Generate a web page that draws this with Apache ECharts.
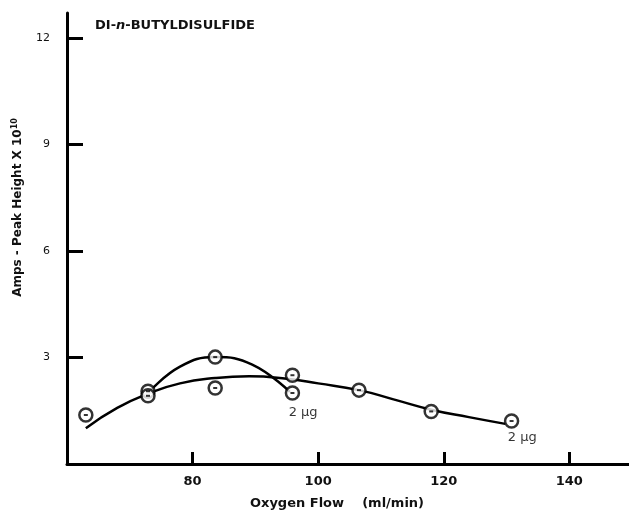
<!DOCTYPE html>
<html>
<head>
<meta charset="utf-8">
<script src="https://cdn.jsdelivr.net/npm/echarts@6/dist/echarts.min.js"></script>
<style>html,body{margin:0;padding:0;background:#fff;}#chart{width:629px;height:514px;}</style>
</head>
<body>
<div id="chart"></div>
<script>
// measured points (Oxygen flow ml/min, Amps peak height x 10^10)
const pointsX = [63.0, 72.9, 72.9, 83.6, 83.6, 95.9, 95.9, 106.5, 118.0, 130.8];
const pointsY = [1.38, 2.05, 1.92, 3.01, 2.14, 2.50, 2.00, 2.08, 1.48, 1.21];
// broad fitted curve
const curveAX = [63.0, 68.0, 72.9, 78.0, 83.6, 89.0, 95.0, 100.0, 106.5, 112.0, 118.0, 124.0, 129.8];
const curveAY = [1.01, 1.58, 1.98, 2.27, 2.42, 2.47, 2.40, 2.27, 2.08, 1.82, 1.53, 1.32, 1.13];
// narrow fitted curve
const curveBX = [72.9, 78.0, 83.6, 89.5, 95.5];
const curveBY = [2.00, 2.74, 3.01, 2.80, 2.03];
// annotations
const noteX = [97.6, 132.5];
const noteY = [1.44, 0.74];
const noteText = ['2 \u00b5g', '2 \u00b5g'];
const xTicks = [80, 100, 120, 140];
const yTicks = [3, 6, 9, 12];

const zip = (a, b) => a.map((v, i) => [v, b[i]]);
const FONT = '"DejaVu Sans", "Liberation Sans", sans-serif';

const chart = echarts.init(document.getElementById('chart'));
chart.setOption({
  animation: false,
  backgroundColor: '#fff',
  title: {
    text: 'DI-{i|n}-BUTYLDISULFIDE',
    left: 95, top: 19, padding: 0,
    textStyle: {
      fontFamily: FONT, fontSize: 13, fontWeight: 'bold', color: '#111',
      rich: { i: { fontFamily: FONT, fontSize: 13, fontWeight: 'bold', fontStyle: 'italic', color: '#111' } }
    }
  },
  grid: { left: 67, right: 0, top: 13, bottom: 50, outerBoundsMode: 'none', containLabel: false },
  xAxis: {
    type: 'value', min: 60, max: 149.5, interval: 20,
    name: 'Oxygen Flow    (ml/min)', nameLocation: 'middle', nameGap: 33,
    nameTextStyle: { fontFamily: FONT, fontSize: 13, fontWeight: 'bold', color: '#111', padding: [0, 22, 0, 0] },
    axisLine: { lineStyle: { color: '#000', width: 3 } },
    axisTick: { inside: true, length: 12, customValues: xTicks, lineStyle: { color: '#000', width: 3 } },
    axisLabel: {
      fontFamily: FONT, fontSize: 13, fontWeight: 'bold', color: '#111', margin: 11,
      customValues: xTicks
    },
    splitLine: { show: false }
  },
  yAxis: {
    type: 'value', min: 0, max: 12.7, interval: 3,
    name: 'Amps - Peak Height X 10{s|10}', nameLocation: 'middle', nameGap: 42, nameRotate: 90,
    nameTextStyle: { fontFamily: FONT, fontSize: 12, fontWeight: 'bold', color: '#111', padding: [0, 0, 0, 62],
      rich: { s: { fontFamily: FONT, fontSize: 8, fontWeight: 'bold', color: '#111', verticalAlign: 'top', padding: [0,0,6,0] } } },
    axisLine: { lineStyle: { color: '#000', width: 3 } },
    axisTick: { inside: true, length: 16, customValues: yTicks, lineStyle: { color: '#000', width: 3 } },
    axisLabel: {
      fontFamily: FONT, fontSize: 11, color: '#111', margin: 17,
      customValues: yTicks
    },
    splitLine: { show: false }
  },
  series: [
    { type: 'line', data: zip(curveAX, curveAY), smooth: true, showSymbol: false,
      lineStyle: { color: '#000', width: 2.5 }, z: 2 },
    { type: 'line', data: zip(curveBX, curveBY), smooth: 0.45, showSymbol: false,
      lineStyle: { color: '#000', width: 2.5 }, z: 2 },
    { type: 'scatter', data: zip(pointsX, pointsY), symbol: 'circle', symbolSize: 13,
      itemStyle: { color: '#fff', borderColor: '#000', borderWidth: 2.5 }, z: 3 },
    { type: 'scatter', data: zip(pointsX, pointsY), symbol: 'rect', symbolSize: [4, 2],
      itemStyle: { color: '#000' }, z: 4 },
    { type: 'scatter', data: noteX.map((x, i) => ({ value: [x, noteY[i]], name: noteText[i] })),
      symbolSize: 0,
      label: { show: true, position: 'inside', formatter: p => p.name,
        fontFamily: FONT, fontSize: 13, color: '#000' }, z: 5 }
  ]
});
</script>
</body>
</html>
